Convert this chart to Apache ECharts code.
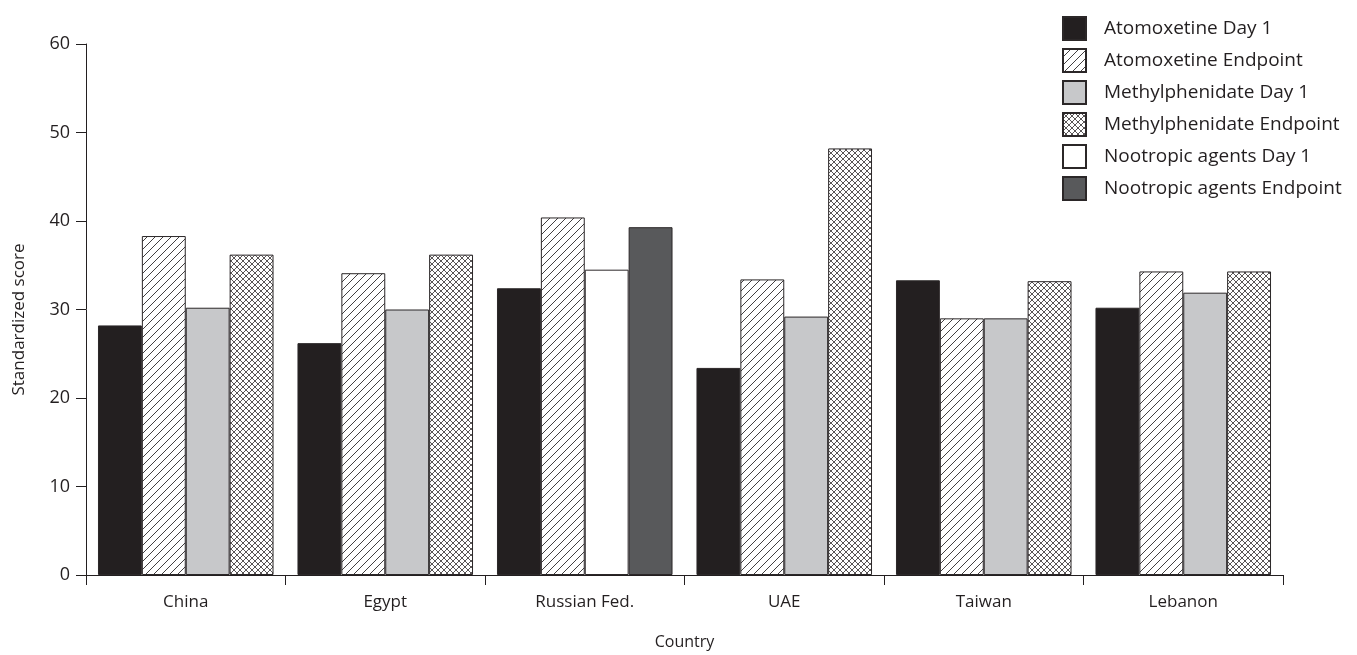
<!DOCTYPE html>
<html>
<head>
<meta charset="utf-8">
<script src="https://cdn.jsdelivr.net/npm/echarts@6/dist/echarts.min.js"></script>
<style>
  html, body { margin: 0; padding: 0; background: #ffffff; }
  #chart { width: 1357px; height: 655px; }
</style>
</head>
<body>
<div id="chart"></div>
<script>
// Countries on the category axis
const countries = ['China', 'Egypt', 'Russian Fed.', 'UAE', 'Taiwan', 'Lebanon'];

// Standardized scores per treatment group (null = group not reported for that country)
const atomoxetineDay1         = [28.2, 26.2, 32.4, 23.4, 33.3, 30.2];
const atomoxetineEndpoint     = [38.3, 34.1, 40.4, 33.4, 29.0, 34.3];
const methylphenidateDay1     = [30.2, 30.0, null, 29.2, 29.0, 31.9];
const methylphenidateEndpoint = [36.2, 36.2, null, 48.2, 33.2, 34.3];
const nootropicDay1           = [null, null, 34.5, null, null, null];
const nootropicEndpoint       = [null, null, 39.3, null, null, null];

// Value axis range
const yMin = 0;
const yMax = 60;
const yStep = 10;

const INK = '#231f20';
const FONT = '"Open Sans", "Noto Sans", sans-serif';

// Build a repeating hatch tile: forward diagonals, optionally crossed with back diagonals
function hatchTile(size, crossed, width) {
  const c = document.createElement('canvas');
  c.width = size;
  c.height = size;
  const g = c.getContext('2d');
  g.fillStyle = '#ffffff';
  g.fillRect(0, 0, size, size);
  g.strokeStyle = '#2e2a2b';
  g.lineWidth = width;
  g.beginPath();
  g.moveTo(-1, size + 1); g.lineTo(size + 1, -1);
  g.moveTo(-1, 1); g.lineTo(1, -1);
  g.moveTo(size - 1, size + 1); g.lineTo(size + 1, size - 1);
  if (crossed) {
    g.moveTo(-1, -1); g.lineTo(size + 1, size + 1);
    g.moveTo(size - 1, -1); g.lineTo(size + 1, 1);
    g.moveTo(-1, size - 1); g.lineTo(1, size + 1);
  }
  g.stroke();
  return c;
}

const diagonal = { image: hatchTile(8, false, 0.9), repeat: 'repeat' };
const crosshatch = { image: hatchTile(6, true, 0.8), repeat: 'repeat' };

// Day 1 / Endpoint pairs share a slot per group: series on the same stack sit in one column
function barSeries(name, data, slot, fill) {
  return {
    name: name,
    type: 'bar',
    stack: slot,
    data: data,
    barGap: '0%',
    barCategoryGap: '12%',
    itemStyle: { color: fill, borderColor: '#2b2728', borderWidth: 1 },
    emphasis: { disabled: true }
  };
}

const chart = echarts.init(document.getElementById('chart'), null, { renderer: 'canvas' });

chart.setOption({
  animation: false,
  backgroundColor: '#ffffff',
  textStyle: { fontFamily: FONT, color: INK },
  grid: { left: 86, right: 74, top: 44, bottom: 77, containLabel: false },
  legend: {
    orient: 'vertical',
    left: 1057,
    top: 11,
    itemWidth: 23,
    itemHeight: 23,
    itemGap: 7,
    icon: 'rect',
    selectedMode: false,
    textStyle: { fontFamily: FONT, fontSize: 19, lineHeight: 23, color: INK, padding: [0, 0, 0, 13] },
    data: [
      'Atomoxetine Day 1',
      'Atomoxetine Endpoint',
      'Methylphenidate Day 1',
      'Methylphenidate Endpoint',
      'Nootropic agents Day 1',
      'Nootropic agents Endpoint'
    ]
  },
  xAxis: {
    type: 'category',
    data: countries,
    name: 'Country',
    nameLocation: 'middle',
    nameGap: 59,
    nameTextStyle: { fontFamily: FONT, fontSize: 16, color: INK },
    axisLine: { show: true, lineStyle: { color: INK, width: 1 } },
    axisTick: { show: true, length: 10, lineStyle: { color: INK, width: 1 } },
    axisLabel: { fontFamily: FONT, fontSize: 17, color: INK, margin: 19 },
    splitLine: { show: false }
  },
  yAxis: {
    type: 'value',
    min: yMin,
    max: yMax,
    interval: yStep,
    name: 'Standardized score',
    nameLocation: 'middle',
    nameGap: 58,
    nameTextStyle: { fontFamily: FONT, fontSize: 17, color: INK, padding: [0, 20, 0, 0] },
    axisLine: { show: true, lineStyle: { color: INK, width: 1 } },
    axisTick: { show: true, length: 10, lineStyle: { color: INK, width: 1 } },
    axisLabel: { fontFamily: FONT, fontSize: 18, color: INK, margin: 16 },
    splitLine: { show: false }
  },
  series: [
    barSeries('Atomoxetine Day 1', atomoxetineDay1, 's1', INK),
    barSeries('Atomoxetine Endpoint', atomoxetineEndpoint, 's2', diagonal),
    barSeries('Methylphenidate Day 1', methylphenidateDay1, 's3', '#c7c8ca'),
    barSeries('Methylphenidate Endpoint', methylphenidateEndpoint, 's4', crosshatch),
    barSeries('Nootropic agents Day 1', nootropicDay1, 's3', '#ffffff'),
    barSeries('Nootropic agents Endpoint', nootropicEndpoint, 's4', '#58595b')
  ]
});
</script>
</body>
</html>
